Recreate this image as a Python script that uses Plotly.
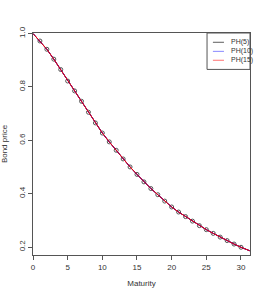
import plotly.graph_objects as go

maturity = [0, 1, 2, 3, 4, 5, 6, 7, 8, 9, 10, 11, 12, 13, 14, 15, 16, 17, 18, 19, 20,
            21, 22, 23, 24, 25, 26, 27, 28, 29, 30, 31.25]
price = [1.0, 0.972, 0.941, 0.904, 0.865, 0.822, 0.785, 0.746, 0.705, 0.665, 0.627,
         0.594, 0.5625, 0.530, 0.500, 0.472, 0.444, 0.419, 0.396, 0.372, 0.350,
         0.331, 0.314, 0.297, 0.280, 0.265, 0.251, 0.237, 0.224, 0.211, 0.199, 0.186]
obs_maturity = maturity[1:31]
obs_price = price[1:31]

series_names = ["PH(5)", "PH(10)", "PH(15)"]
series_colors = ["black", "blue", "red"]
legend_colors = ["#777777", "#9999ff", "#ff8888"]

fig = go.Figure()
fig.add_trace(go.Scatter(x=obs_maturity, y=obs_price, mode="markers",
                         marker=dict(symbol="circle-open", size=4, color="#555555",
                                     line=dict(width=1)), showlegend=False))
for name, col in zip(series_names, series_colors):
    fig.add_trace(go.Scatter(x=maturity, y=price, mode="lines", name=name,
                             line=dict(color=col, width=1.0), showlegend=False))

# manual R-style legend
x0, x1 = 0.802, 1.0
fig.add_shape(type="rect", xref="paper", yref="paper", x0=x0, x1=x1, y0=0.836, y1=1.0,
              line=dict(color="#555555", width=1), fillcolor="white", layer="above")
ys = [0.958, 0.917, 0.877]
for name, col, yy in zip(series_names, legend_colors, ys):
    fig.add_shape(type="line", xref="paper", yref="paper", x0=0.829, x1=0.88, y0=yy, y1=yy,
                  line=dict(color=col, width=1.2), layer="above")
    fig.add_annotation(xref="paper", yref="paper", x=0.903, y=yy, text=name,
                       showarrow=False, xanchor="left", yanchor="middle",
                       font=dict(size=7, color="#333333", family="Liberation Sans"))

axis_common = dict(showline=True, linecolor="#555555", linewidth=1, mirror=True,
                   ticks="outside", ticklen=4, tickcolor="#555555", showgrid=False,
                   zeroline=False, automargin=False,
                   tickfont=dict(size=8, color="#333333"))
fig.update_xaxes(range=[0, 31.3], tickvals=[0, 5, 10, 15, 20, 25, 30],
                 title=dict(text="Maturity", font=dict(size=8, color="#333333"), standoff=9),
                 **axis_common)
fig.update_yaxes(range=[0.17, 1.002], tickvals=[0.2, 0.4, 0.6, 0.8, 1.0],
                 ticktext=["0.2", "0.4", "0.6", "0.8", "1.0"], tickangle=-90,
                 title=dict(text="Bond price", font=dict(size=8, color="#333333"), standoff=8),
                 **axis_common)
fig.update_layout(width=267, height=296, margin=dict(l=33, r=17, t=33, b=41),
                  plot_bgcolor="white", paper_bgcolor="white",
                  font=dict(family="Liberation Sans"))
fig.write_html("out.html", config={"displayModeBar": False},
               post_script="document.body.style.margin='0';document.body.style.overflow='hidden';")
